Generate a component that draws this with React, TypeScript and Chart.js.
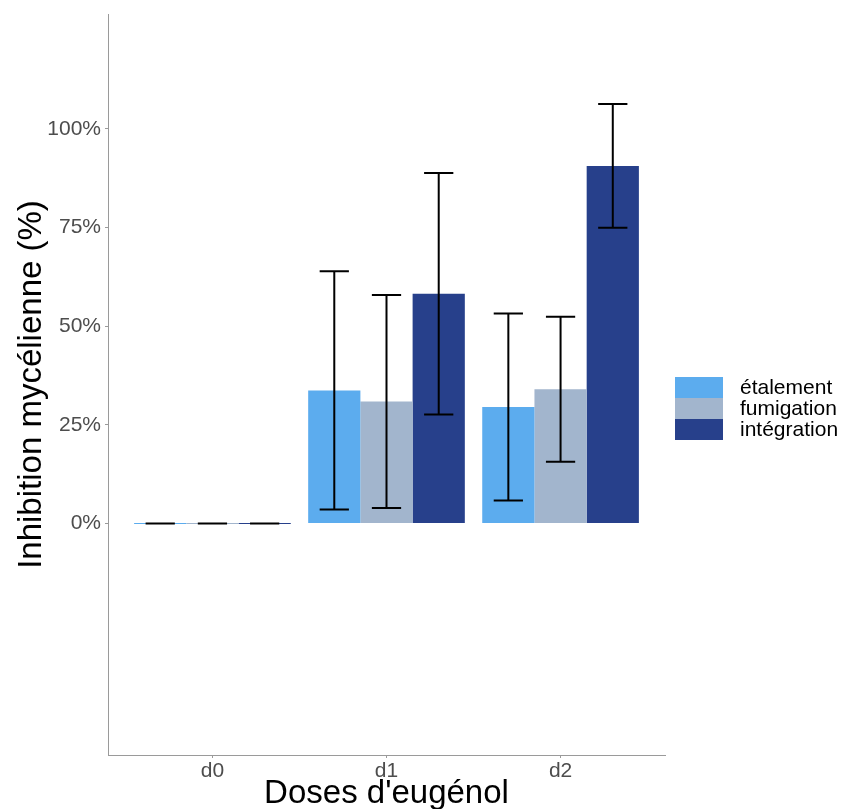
import React, { useEffect, useRef } from 'react';
import { Chart, registerables } from 'chart.js';

Chart.register(...registerables);

const doses = ['d0', 'd1', 'd2'];
const seriesNames = ['étalement', 'fumigation', 'intégration'];
const seriesColors = ['#5CACEE', '#A2B5CD', '#27408B'];

const etalementMean = [0, 0.337, 0.295];
const etalementSd = [0, 0.302, 0.237];
const fumigationMean = [0, 0.309, 0.34];
const fumigationSd = [0, 0.27, 0.184];
const integrationMean = [0, 0.582, 0.906];
const integrationSd = [0, 0.306, 0.157];

const yTickValues = [0, 0.25, 0.5, 0.75, 1];
const yTitle = 'Inhibition mycélienne (%)';
const xTitle = "Doses d'eugénol";

const means = [etalementMean, fumigationMean, integrationMean];
const sds = [etalementSd, fumigationSd, integrationSd];

const FONT = '"Liberation Sans", Arial, Helvetica, sans-serif';

const errorBarPlugin = {
  id: 'errorBars',
  afterDatasetsDraw(chart: any) {
    const ctx = chart.ctx;
    const y = chart.scales.y;
    ctx.save();
    ctx.strokeStyle = '#000';
    ctx.lineWidth = 2;
    chart.data.datasets.forEach((ds: any, i: number) => {
      const meta = chart.getDatasetMeta(i);
      meta.data.forEach((el: any, j: number) => {
        const m = means[i][j];
        const s = sds[i][j];
        const x = el.x;
        const half = el.width * 0.28;
        const yt = y.getPixelForValue(m + s);
        const yb = y.getPixelForValue(m - s);
        ctx.beginPath();
        ctx.moveTo(x, yt);
        ctx.lineTo(x, yb);
        ctx.moveTo(x - half, yt);
        ctx.lineTo(x + half, yt);
        ctx.moveTo(x - half, yb);
        ctx.lineTo(x + half, yb);
        ctx.stroke();
      });
    });
    ctx.restore();
  },
};

const titlesLegendPlugin = {
  id: 'titlesLegend',
  afterDraw(chart: any) {
    const ctx = chart.ctx;
    const area = chart.chartArea;
    ctx.save();
    ctx.fillStyle = '#000';
    ctx.font = `33px ${FONT}`;
    ctx.textAlign = 'center';
    ctx.textBaseline = 'alphabetic';
    ctx.fillText(xTitle, (area.left + area.right) / 2, 803);
    ctx.save();
    ctx.translate(41, (area.top + area.bottom) / 2);
    ctx.rotate(-Math.PI / 2);
    ctx.fillText(yTitle, 0, 0);
    ctx.restore();

    // legend
    const keyX = 675;
    const keyW = 48;
    const keyH = 21;
    const top = 377;
    ctx.font = `21px ${FONT}`;
    ctx.textAlign = 'left';
    ctx.textBaseline = 'middle';
    seriesNames.forEach((name, i) => {
      ctx.fillStyle = seriesColors[i];
      ctx.fillRect(keyX, top + i * keyH, keyW, keyH);
      ctx.fillStyle = '#000';
      ctx.fillText(name, 740, top + i * keyH + keyH / 2 + 1);
    });
    ctx.restore();
  },
};

export default function App() {
  const canvasRef = useRef<HTMLCanvasElement | null>(null);

  useEffect(() => {
    document.body.style.margin = '0';
    const canvas = canvasRef.current;
    if (!canvas) return;
    const chart = new Chart(canvas, {
      type: 'bar',
      data: {
        datasets: seriesNames.map((name, i) => ({
          label: name,
          data: doses.map((_, j) => ({ x: j, y: means[i][j] })),
          backgroundColor: seriesColors[i],
          borderWidth: 0,
          minBarLength: 1,
          categoryPercentage: 0.9,
          barPercentage: 1,
        })),
      },
      options: {
        responsive: false,
        animation: false,
        devicePixelRatio: 1,
        layout: { padding: { top: 14, right: 179, left: 0, bottom: 0 } },
        plugins: {
          legend: { display: false },
          tooltip: { enabled: false },
        },
        scales: {
          x: {
            type: 'linear',
            min: -0.6,
            max: 2.6,
            offset: false,
            afterBuildTicks: (s: any) => {
              s.ticks = doses.map((_, i) => ({ value: i }));
            },
            afterFit: (s: any) => {
              s.height = 54;
              s.paddingLeft = 0;
              s.paddingRight = 0;
            },
            ticks: {
              callback: (v: any) => doses[Math.round(Number(v))] ?? '',
              color: '#4d4d4d',
              font: { family: FONT, size: 21 },
              padding: 1,
              maxRotation: 0,
              autoSkip: false,
            },
            grid: {
              offset: false,
              drawOnChartArea: false,
              drawTicks: true,
              tickLength: 3,
              color: '#9a9a9a',
            },
            border: { display: true, color: '#9a9a9a', width: 1 },
          },
          y: {
            type: 'linear',
            min: -0.587,
            max: 1.291,
            afterBuildTicks: (s: any) => {
              s.ticks = yTickValues.map((v) => ({ value: v }));
            },
            afterFit: (s: any) => {
              s.width = 108;
              s.paddingTop = 0;
              s.paddingBottom = 0;
            },
            ticks: {
              callback: (v: any) => `${Math.round(Number(v) * 100)}%`,
              color: '#4d4d4d',
              font: { family: FONT, size: 21 },
              padding: 4,
            },
            grid: {
              drawOnChartArea: false,
              drawTicks: true,
              tickLength: 3,
              color: '#9a9a9a',
            },
            border: { display: true, color: '#9a9a9a', width: 1 },
          },
        },
      } as any,
      plugins: [errorBarPlugin, titlesLegendPlugin],
    });
    return () => chart.destroy();
  }, []);

  return (
    <div style={{ position: 'absolute', left: 0, top: 0, width: 844, height: 809, background: '#fff' }}>
      <canvas ref={canvasRef} width={844} height={809} />
    </div>
  );
}
